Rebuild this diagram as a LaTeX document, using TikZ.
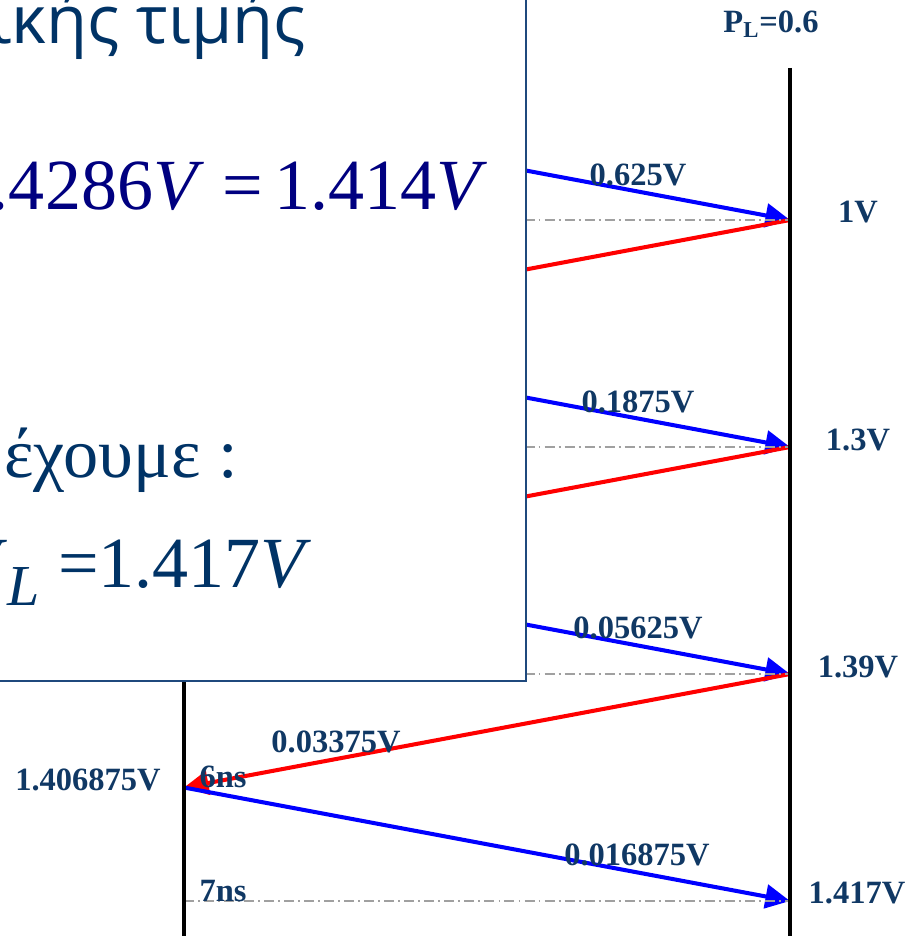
\documentclass[tikz,border=0pt]{standalone}
\usepackage{fontspec}
\setmainfont{Liberation Serif}
\newfontfamily\greeksans{Open Sans}
\usetikzlibrary{arrows.meta}
\definecolor{bdnavy}{RGB}{16,56,100}
\definecolor{bdtitle}{RGB}{0,51,102}
\definecolor{bdmath}{RGB}{0,0,128}
\definecolor{bdframe}{RGB}{31,73,125}
\definecolor{bdgrey}{RGB}{160,160,160}
\definecolor{bdblue}{RGB}{0,0,255}
\definecolor{bdred}{RGB}{255,0,0}

\begin{document}
\begin{tikzpicture}[x=0.02cm,y=-0.02cm,
    every node/.style={font=\fontsize{18.5}{22}\selectfont\bfseries,text=bdnavy,inner sep=0pt},
    wire/.style={line width=2pt,black},
    level/.style={bdgrey,line width=1pt,dash pattern=on 5.7pt off 2.3pt on 1.1pt off 2.3pt},
    incident/.style={bdblue,line width=2.3pt,-{Triangle[length=14pt,width=13.5pt]}},
    reflect/.style={bdred,line width=2.3pt,-{Triangle[length=14pt,width=13.5pt]}}]
    \useasboundingbox (0,0) rectangle (908,936);
    \clip (0,0) rectangle (908,936);
    % source side (left) and load side (right)
    \coordinate (Stop) at (184,68);
    \coordinate (Sbot) at (184,940);
    \coordinate (Ltop) at (790,68);
    \coordinate (Lbot) at (790,940);
    \foreach \t in {0,2,4,6} \coordinate (S\t) at (184,{106.5+113.5*\t});
    \foreach \t in {1,3,5,7} \coordinate (L\t) at (790,{106.5+113.5*\t});
    % bounces
    \draw[incident] (S0) -- (L1);
    \draw[reflect] (L1) -- (S2);
    \draw[incident] (S2) -- (L3);
    \draw[reflect] (L3) -- (S4);
    \draw[incident] (S4) -- (L5);
    \draw[reflect] (L5) -- (S6);
    \draw[incident] (S6) -- (L7);
    \draw[level] (L1 -| Stop) -- (L1);
    \draw[level] (L3 -| Stop) -- (L3);
    \draw[level] (L5 -| Stop) -- (L5);
    \draw[level] (L7 -| Stop) -- (L7);
    \draw[wire] (Stop) -- (Sbot);
    \draw[wire] (Ltop) -- (Lbot);
    % slide panel on top
    \draw[bdframe,line width=1.2pt,fill=white] (-20,-20) rectangle (526,681);
    \node[anchor=base east,text=bdtitle,font=\greeksans\fontsize{38}{44}\selectfont] (title) at (306,44) {ικής τιμής};
    \node[anchor=base east,text=bdmath,font=\fontsize{41}{48}\selectfont] (vinf) at (488,209)
          {1.4286\textit{V} =\,1.414\textit{V}};
    \node[anchor=base east,text=bdtitle,font=\fontsize{40}{48}\selectfont] (graph) at (238,477) {έχουμε :};
    \node[anchor=base east,text=bdtitle,font=\fontsize{41}{48}\selectfont] (vload) at (312,587)
          {\textit{V}{\fontsize{33}{33}\selectfont\raisebox{-10.5pt}{\textit{L}}} =1.417\textit{V}};
    % labels
    \node[anchor=base] (pl) at (771,33) {P\textsubscript{L}=0.6};
    \node[anchor=base] (v1) at (858,222) {1V};
    \node[anchor=base] (v3) at (858,450) {1.3V};
    \node[anchor=base] (v5) at (858,677) {1.39V};
    \node[anchor=base] (v7) at (857,903) {1.417V};
    \node[anchor=base] (a1) at (638,185) {0.625V};
    \node[anchor=base] (a3) at (638,412) {0.1875V};
    \node[anchor=base] (a5) at (638,638) {0.05625V};
    \node[anchor=base] (r6) at (336,752) {0.03375V};
    \node[anchor=base] (a7) at (637,865) {0.016875V};
    \node[anchor=base] (vs) at (88,790) {1.406875V};
    \node[anchor=base] (t6) at (223,787) {6ns};
    \node[anchor=base] (t7) at (223,901) {7ns};
\end{tikzpicture}
\end{document}
